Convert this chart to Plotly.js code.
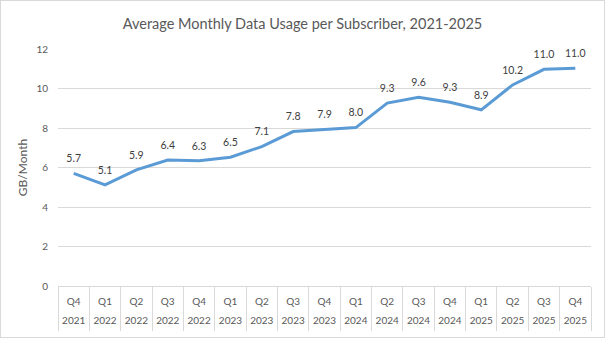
<!DOCTYPE html>
<html><head><meta charset="utf-8">
<script src="https://cdn.plot.ly/plotly-3.0.1.min.js"></script>
<style>
html,body{margin:0;padding:0;background:#fff;}
#wrap{position:relative;width:605px;height:338px;}
#chart{width:605px;height:338px;}
#frame{position:absolute;left:0;top:0;width:603px;height:336px;border:1px solid #d9d9d9;pointer-events:none;}
</style></head>
<body>
<div id="wrap"><div id="chart"></div><div id="frame"></div></div>
<script>
const quarters = ["Q4","Q1","Q2","Q3","Q4","Q1","Q2","Q3","Q4","Q1","Q2","Q3","Q4","Q1","Q2","Q3","Q4"];
const years = ["2021","2022","2022","2022","2022","2023","2023","2023","2023","2024","2024","2024","2024","2025","2025","2025","2025"];
const usage = [5.7,5.12,5.88,6.38,6.34,6.52,7.06,7.82,7.92,8.02,9.26,9.55,9.3,8.92,10.18,10.97,11.03];
const yTicks = [0,2,4,6,8,10,12];

const cats = quarters.map((q,i)=>q+" "+years[i]);
const font = "Lato, 'Open Sans', sans-serif";

const traces = [
  {
    x: cats, y: usage, type: "scatter", mode: "lines+markers+text",
    line: {color: "#5b9bd5", width: 3},
    marker: {size: 12, opacity: 0, color: "#5b9bd5"},
    text: usage.map(v=>v.toFixed(1)), textposition: "top center",
    textfont: {family: font, size: 10.5, color: "#404040"},
    hoverinfo: "skip", showlegend: false, cliponaxis: false
  },
  {
    x: cats, y: usage, type: "scatter", mode: "none", xaxis: "x2",
    hoverinfo: "skip", showlegend: false
  }
];

const layout = {
  width: 605, height: 338,
  margin: {l: 58, r: 14, t: 49, b: 52},
  paper_bgcolor: "#fff", plot_bgcolor: "#fff",
  title: {text: "Average Monthly Data Usage per Subscriber, 2021-2025",
    font: {family: font, size: 14.5, color: "#595959"}, x: 0.5, xanchor: "center", y: 0.928, yanchor: "middle"},
  xaxis: {
    type: "category", range: [-0.5, 16.5], categoryarray: cats,
    tickvals: cats, ticktext: quarters, tickangle: 0,
    showgrid: false, zeroline: false, showline: true, linecolor: "#d9d9d9", linewidth: 1,
    ticks: "", ticklabelstandoff: 6,
    tickfont: {family: font, size: 10, color: "#595959"}
  },
  xaxis2: {
    type: "category", overlaying: "x", side: "bottom", anchor: "y",
    range: [-0.5, 16.5], categoryarray: cats,
    tickvals: cats, ticktext: years, tickangle: 0,
    showgrid: false, zeroline: false, showline: false,
    ticks: "outside", tickson: "boundaries", ticklen: 44, tickcolor: "#d9d9d9", tickwidth: 1,
    ticklabelstandoff: 27,
    tickfont: {family: font, size: 10, color: "#595959"}
  },
  yaxis: {
    range: [0, 12], tickvals: yTicks, ticktext: yTicks.map(String),
    showgrid: true, gridcolor: "#d9d9d9", gridwidth: 1, zeroline: false,
    showline: false, ticks: "", ticklabelstandoff: 9,
    tickfont: {family: font, size: 10, color: "#595959"},
    title: {text: "GB/Month", font: {family: font, size: 12, color: "#595959"}, standoff: 6}
  }
};

Plotly.newPlot("chart", traces, layout, {displayModeBar: false, staticPlot: true});
</script>
</body></html>
